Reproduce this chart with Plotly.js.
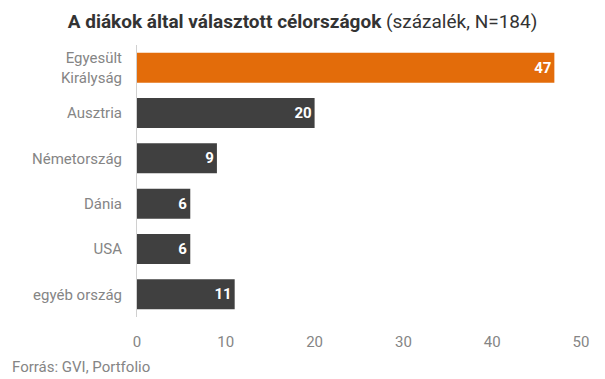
<!DOCTYPE html>
<html>
<head>
<meta charset="utf-8">
<script src="https://cdn.plot.ly/plotly-3.0.1.min.js"></script>
<style>html,body{margin:0;padding:0;background:#fff;}#chart{width:605px;height:379px;}</style>
</head>
<body>
<div id="chart"></div>
<script>
const categories = ["Egyesült<br>Királyság", "Ausztria", "Németország", "Dánia", "USA", "egyéb ország"];
const values = [47, 20, 9, 6, 6, 11];
const barColors = ["#E36C0A", "#404040", "#404040", "#404040", "#404040", "#404040"];
const xTicks = [0, 10, 20, 30, 40, 50];

const trace = {
  type: "bar",
  orientation: "h",
  y: categories,
  x: values,
  marker: {color: barColors},
  text: values.map(String),
  textposition: "inside",
  insidetextanchor: "end",
  textfont: {family: "Roboto", size: 15, color: "#ffffff", weight: "bold"},
  cliponaxis: false,
  hoverinfo: "none"
};

const layout = {
  width: 605, height: 379,
  margin: {l: 137, r: 24, t: 45, b: 62},
  paper_bgcolor: "#ffffff", plot_bgcolor: "#ffffff",
  font: {family: "Roboto", color: "#858585", size: 15},
  bargap: 0.34,
  showlegend: false,
  title: {
    text: "<b>A diákok által választott célországok</b> (százalék, N=184)",
    font: {family: "Roboto", size: 19, color: "#333333"},
    x: 0.5, xanchor: "center", xref: "container",
    y: 1 - 21/379, yanchor: "middle", yref: "container"
  },
  xaxis: {
    range: [0, 50], tickvals: xTicks, ticktext: xTicks.map(String),
    showgrid: false, zeroline: false, showline: false,
    ticks: "outside", ticklen: 11, tickcolor: "rgba(0,0,0,0)",
    tickfont: {family: "Roboto", size: 15, color: "#858585"},
    fixedrange: true
  },
  yaxis: {
    autorange: "reversed",
    showgrid: false, zeroline: false,
    showline: true, linecolor: "#d0d0d0", linewidth: 1,
    ticks: "outside", ticklen: 11, tickcolor: "rgba(0,0,0,0)",
    tickfont: {family: "Roboto", size: 15, color: "#858585"},
    fixedrange: true
  },
  annotations: [{
    text: "Forrás: GVI, Portfolio",
    xref: "paper", yref: "paper",
    x: -127/444, y: -50/272, xanchor: "left", yanchor: "middle",
    showarrow: false,
    font: {family: "Roboto", size: 15, color: "#858585"}
  }]
};

Plotly.newPlot("chart", [trace], layout, {displayModeBar: false, staticPlot: true});
</script>
</body>
</html>
